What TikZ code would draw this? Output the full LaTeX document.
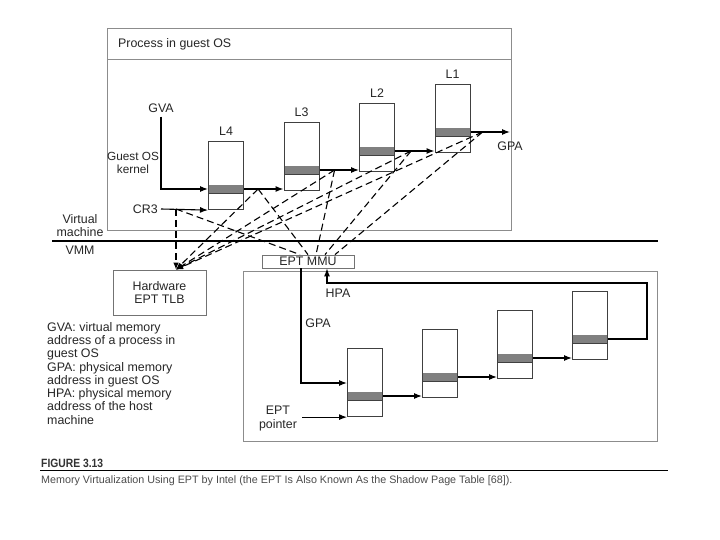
\documentclass[tikz,border=0pt]{standalone}
\usepackage{fontspec}
\setmainfont{Liberation Sans}
\newfontfamily\figfont[FakeStretch=0.86]{Liberation Sans}
\usetikzlibrary{arrows.meta, positioning, calc}
\newcommand\lblfont{\fontsize{12.4}{13.3}\selectfont}
\tikzstyle{ptable} = [rectangle, draw=black!75, line width=1.1pt, minimum width=35pt, minimum height=68pt, anchor=north west, inner sep=0pt,
  path picture={\fill[black!50] ([yshift=-43pt]path picture bounding box.north west) rectangle ([yshift=-52pt]path picture bounding box.north east);
                \draw[line width=1.4pt] ([yshift=-52pt]path picture bounding box.north west) -- ([yshift=-52pt]path picture bounding box.north east);}]
\tikzstyle{frame}  = [draw=black!45, line width=0.8pt]
\tikzstyle{unit}   = [rectangle, draw=black!55, line width=0.8pt, inner sep=0pt, text centered, align=center, font=\lblfont, text=black!85]
\tikzstyle{arrow}  = [line width=1.1pt, -{Latex[length=8pt,width=6pt]}]
\tikzstyle{lookup} = [line width=1.1pt, dash pattern=on 7pt off 4pt]
\tikzstyle{lbl}    = [font=\lblfont, text=black!85, inner sep=0pt, align=center]

\begin{document}
\begin{tikzpicture}[x=1pt, y=-1pt]
    \useasboundingbox[fill=white] (0,0) rectangle (720,540);

    % guest process and host frames
    \draw[frame] (107,28) rectangle (511,230);
    \draw[frame] (107,59) -- (511,59);
    \node[lbl, anchor=west] (proc) at (118,44) {Process in guest OS};
    \draw[frame] (243,271) rectangle (657,441);

    % VM / VMM boundary
    \draw[line width=1.4pt] (52,241) -- (658,241);
    \node[lbl] (vm)  at (80,225.5) {Virtual\\machine};
    \node[lbl] (vmm) at (80,250)   {VMM};

    % page tables: guest (l*) and EPT (e*)
    \foreach \n/\x/\y in {l4/208/141, l3/283.5/122, l2/359/103, l1/434.5/84, e1/347/348, e2/422/329, e3/497/310, e4/572/291} {
        \node[ptable] (\n) at (\x,\y) {};
        \coordinate (o\n) at ([yshift=-48pt]\n.north east);
    }
    \foreach \n/\t in {l4/L4, l3/L3, l2/L2, l1/L1}
        \node[lbl, above=5pt of \n] (lab\n) {\t};

    \node[lbl] (gva)  at (161,108) {GVA};
    \node[lbl, font=\fontsize{11.8}{12.6}\selectfont] (kern) at (133,163) {Guest OS\\kernel};
    \node[lbl, anchor=east] (cr3) at (158,209) {CR3};
    \node[lbl] (gpa)  at (510,146) {GPA};

    \draw[arrow] ([yshift=-4pt]gva.south) |- ([yshift=-48pt]l4.north west);
    \draw[arrow] ([xshift=3pt]cr3.east) -- (l4.south west);
    \draw[arrow] (ol4) -- (ol4 -| l3.west);
    \draw[arrow] (ol3) -- (ol3 -| l2.west);
    \draw[arrow] (ol2) -- (ol2 -| l1.west);
    \draw[arrow] (ol1) -- (ol1 -| gpa);

    % translation units
    \node[unit, minimum width=93pt, minimum height=45pt] (tlb) at (159.5,292.5) {Hardware\\EPT TLB};
    \node[unit, minimum width=92pt, minimum height=13pt] (mmu) at (308,261.5) {EPT MMU};

    % lookups of every guest physical address
    \coordinate (tcr3) at (176,209);
    \foreach \n/\d in {l4/14, l3/15, l2/16, l1/12}
        \coordinate (t\n) at ([xshift=\d pt]o\n);
    \coordinate (hit) at (tcr3 |- tlb.north);
    \foreach \n in {cr3, l4, l3, l2, l1}
        \draw[lookup, -{Latex[length=7pt,width=5.5pt]}] (t\n) -- (hit);
    \foreach \n/\d in {cr3/-8, l4/0, l3/8, l2/17, l1/27}
        \draw[lookup] (t\n) -- ([xshift=\d pt]mmu.north);

    % EPT walk
    \node[lbl] (gpa2) at (318,323) {GPA};
    \node[lbl] (hpa)  at (338,293) {HPA};
    \node[lbl] (eptp) at (278,418.5) {EPT\\pointer};
    \coordinate (bend) at (647,283);

    \draw[arrow] ([xshift=-7pt]mmu.south) |- ([yshift=-35pt]e1.north west);
    \draw[arrow] ($(eptp.east |- e1.south west)+(5,0)$) -- (e1.south west);
    \draw[arrow] (oe1) -- (oe1 -| e2.west);
    \draw[arrow] (oe2) -- (oe2 -| e3.west);
    \draw[arrow] (oe3) -- (oe3 -| e4.west);
    \draw[arrow] (oe4) -| (bend) -| ([xshift=19pt]mmu.south);

    % legend
    \node[lbl, anchor=north west, align=left] (legend) at (47,322) {GVA: virtual memory\\address of a process in\\guest OS\\GPA: physical memory\\address in guest OS\\HPA: physical memory\\address of the host\\machine};

    % caption
    \node[anchor=west, inner sep=0pt, text=black!80] (fig) at (41,463) {\figfont\fontsize{12}{14}\selectfont\bfseries FIGURE 3.13};
    \draw[line width=0.8pt] (40,470) -- (668,470);
    \node[anchor=west, inner sep=0pt, text=black!70] (cap) at (41,481) {\fontsize{10.75}{12}\selectfont Memory Virtualization Using EPT by Intel (the EPT Is Also Known As the Shadow Page Table [68]).};
\end{tikzpicture}
\end{document}
